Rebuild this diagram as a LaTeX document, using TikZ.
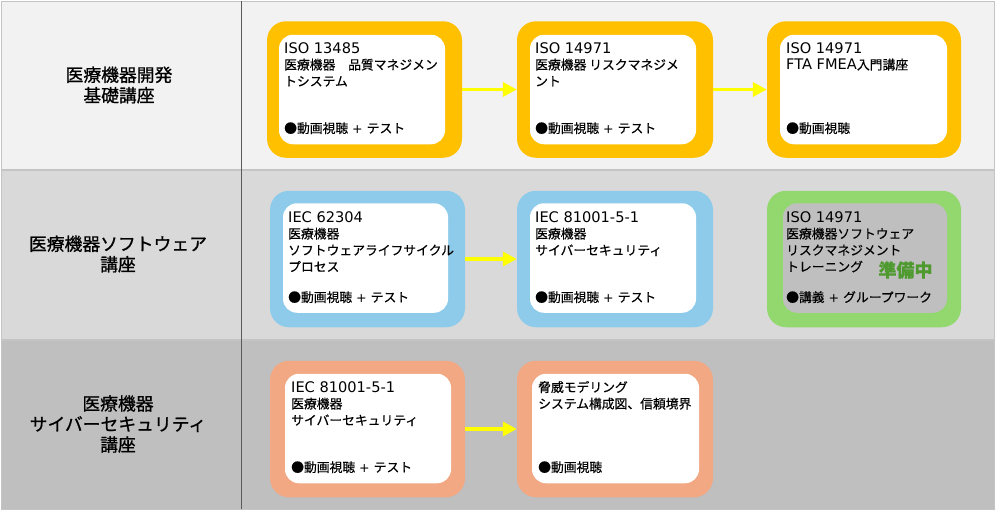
\documentclass[tikz,border=0pt]{standalone}
\usepackage{fontspec}
\setmainfont{Noto Sans CJK JP}[FakeBold=0.4]
\newfontfamily\lat{DejaVu Sans}
\newfontfamily\lblfont{Noto Sans CJK JP}[FakeBold=0.9]
\usetikzlibrary{arrows.meta}
\definecolor{rowA}{HTML}{F2F2F2}
\definecolor{rowB}{HTML}{D9D9D9}
\definecolor{rowC}{HTML}{BFBFBF}
\definecolor{frameC}{HTML}{C4C4C4}
\definecolor{divC}{HTML}{5A5A5A}
\definecolor{cOrange}{HTML}{FFC000}
\definecolor{cBlue}{HTML}{8ECBEB}
\definecolor{cGreen}{HTML}{92D86E}
\definecolor{cSalmon}{HTML}{F1A883}
\definecolor{cInnerGray}{HTML}{BFBFBF}
\definecolor{cArrow}{HTML}{FFFF00}
\definecolor{cReady}{HTML}{4E9A2F}
\newcommand\ttl[1]{{\lat\fontsize{14.6}{16}\selectfont #1}}
\newcommand\pls{{\lat\fontsize{12.6}{15}\selectfont{} + }}
\newcommand\cardtext[4]{%
  \foreach \t [count=\i from 0] in {#4} {\node[txt] (#1-\i) at (#2, {#3+16.5*\i}) {\t};}}
\begin{document}
\begin{tikzpicture}[x=1pt,y=-1pt,
  obox/.style={draw=none, rounded corners=19pt, inner sep=0pt, minimum height=136.5pt},
  ibox/.style={draw=none, rounded corners=14pt, inner sep=0pt, minimum height=109.5pt},
  txt/.style={anchor=base west, inner sep=0pt, font=\fontsize{12.8}{15}\selectfont},
  lbl/.style={align=center, inner sep=0pt, font=\lblfont\fontsize{17.8}{20.5}\selectfont},
  arr/.style={draw=cArrow, line width=3.6pt, -{Triangle[length=14pt, width=14pt]}}]
\useasboundingbox (0,0) rectangle (997,512);
\fill[white] (0,0) rectangle (997,512);
% rows
\fill[rowA] (1,1) rectangle (994,170);
\fill[rowB] (1,170) rectangle (994,340);
\fill[rowC] (1,340) rectangle (994,509);
\draw[frameC, line width=1pt] (1,1) rectangle (994,509);
\draw[frameC, line width=1.2pt] (1,170) -- (994,170);
\draw[frameC, line width=1.2pt] (1,340) -- (994,340);
\draw[divC, line width=1pt] (241,1) -- (241,509);
% left labels
\node[lbl] (l1) at (119,85) {医療機器開発\\基礎講座};
\node[lbl] (l2) at (118,254) {医療機器ソフトウェア\\講座};
\node[lbl] (l3) at (118,424) {医療機器\\サイバーセキュリティ\\講座};
% row 1
\node[obox, fill=cOrange, minimum width=195pt] (b11) at (364.5,89.5) {};
\node[ibox, fill=white, minimum width=166pt] (i11) at (362,89.5) {};
\node[obox, fill=cOrange, minimum width=196pt] (b12) at (615,89.5) {};
\node[ibox, fill=white, minimum width=166pt] (i12) at (613,89.5) {};
\node[obox, fill=cOrange, minimum width=194pt] (b13) at (864,89.5) {};
\node[ibox, fill=white, minimum width=167pt] (i13) at (863.5,89.5) {};
% row 2
\node[obox, fill=cBlue, minimum width=195pt] (b21) at (367.5,259) {};
\node[ibox, fill=white, minimum width=165pt] (i21) at (365.5,258) {};
\node[obox, fill=cBlue, minimum width=196pt] (b22) at (615,259) {};
\node[ibox, fill=white, minimum width=166pt] (i22) at (613,258) {};
\node[obox, fill=cGreen, minimum width=194pt] (b23) at (864,259) {};
\node[ibox, fill=cInnerGray, minimum width=164pt] (i23) at (865,258) {};
% row 3
\node[obox, fill=cSalmon, minimum width=195pt] (b31) at (367.5,429) {};
\node[ibox, fill=white, minimum width=166pt] (i31) at (368,428.5) {};
\node[obox, fill=cSalmon, minimum width=196pt] (b32) at (615,429) {};
\node[ibox, fill=white, minimum width=167pt] (i32) at (615.5,428.5) {};
% arrows
\draw[arr] (b11.east) -- (b12.west);
\draw[arr] (b12.east) -- (b13.west);
\draw[arr] (b21.east) -- (b22.west);
\draw[arr] (b31.east) -- (b32.west);
% texts row 1
\cardtext{t11}{284}{53}{\ttl{ISO 13485}, 医療機器　品質マネジメン, トシステム}
\node[txt] (m11) at (284,133) {●動画視聴\pls テスト};
\cardtext{t12}{535}{53}{\ttl{ISO 14971}, 医療機器 リスクマネジメ, ント}
\node[txt] (m12) at (535,133) {●動画視聴\pls テスト};
\cardtext{t13}{786}{53}{\ttl{ISO 14971}, {\ttl{FTA FMEA}入門講座}}
\node[txt] (m13) at (786,133) {●動画視聴};
% texts row 2
\cardtext{t21}{288}{222}{\ttl{IEC 62304}, 医療機器, ソフトウェアライフサイクル, プロセス}
\node[txt] (m21) at (288,302) {●動画視聴\pls テスト};
\cardtext{t22}{535}{222}{\ttl{IEC 81001-5-1}, 医療機器, サイバーセキュリティ}
\node[txt] (m22) at (535,302) {●動画視聴\pls テスト};
\cardtext{t23}{786}{222}{\ttl{ISO 14971}, 医療機器ソフトウェア, リスクマネジメント, トレーニング}
\node[txt] (m23) at (786,302) {●講義\pls グループワーク};
\node[inner sep=0pt, text=cReady, font=\fontsize{18}{20}\selectfont\bfseries] (ready) at (905.5,270) {準備中};
% texts row 3
\cardtext{t31}{291}{392}{\ttl{IEC 81001-5-1}, 医療機器, サイバーセキュリティ}
\node[txt] (m31) at (291,472) {●動画視聴\pls テスト};
\cardtext{t32}{538}{392}{脅威モデリング, システム構成図、信頼境界}
\node[txt] (m32) at (538,472) {●動画視聴};
\end{tikzpicture}
\end{document}
